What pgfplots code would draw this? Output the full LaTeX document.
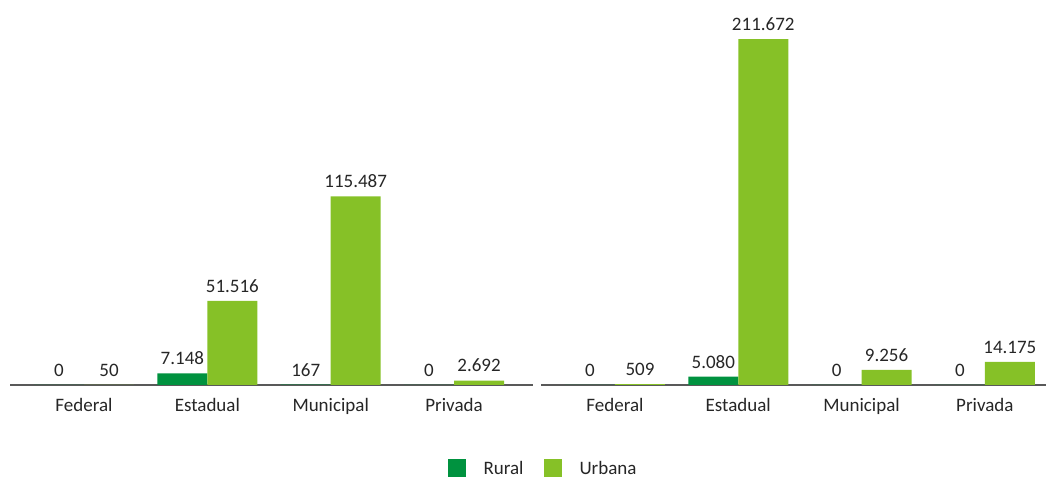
\documentclass[border=0pt]{standalone}
\usepackage{fontspec}
\setmainfont{Carlito}
\usepackage{pgfplots}
\pgfplotsset{compat=1.18}
\definecolor{rural}{HTML}{00923F}
\definecolor{urbana}{HTML}{86C127}
\definecolor{txt}{HTML}{262626}
\newcommand{\lbl}{\fontsize{19}{22}\selectfont}

\pgfplotsset{painel/.style={
  scale only axis, height=385pt, ymin=0, ymax=235620,
  axis x line*=bottom, axis y line=none,
  x axis line style={color=black!65, line width=1.1pt},
  xtick={0,1,2,3}, xticklabels={Federal,Estadual,Municipal,Privada},
  major tick length=0pt,
  xticklabel style={font=\lbl, text=txt, yshift=-10pt},
  ybar, bar width=50pt,
  nodes near coords,
  every node near coord/.append style={font=\lbl, text=txt, yshift=5pt},
  /pgf/number format/1000 sep={.},
  /pgf/number format/fixed,
  /pgf/number format/precision=0,
  /pgf/number format/assume math mode=true,
  legend image code/.code={\fill[##1] (0pt,-9pt) rectangle (18pt,9pt); \path (34pt,0pt);},
}}

\begin{document}
\begin{tikzpicture}
\useasboundingbox (0,0) rectangle (1046pt,478pt);
% painel esquerdo
\begin{axis}[painel, at={(10pt,93pt)}, anchor=south west,
  width=523pt, xmin=-0.6, xmax=3.64]
\addplot[fill=rural, draw=none, bar shift=-25pt] coordinates {(0,0) (1,7148) (2,167) (3,0)};
\addplot[fill=urbana, draw=none, bar shift=25pt] coordinates {(0,50) (1,51516) (2,115487) (3,2692)};
\end{axis}
% painel direito
\begin{axis}[painel, at={(541pt,93pt)}, anchor=south west,
  width=505pt, xmin=-0.6, xmax=3.496,
  legend columns=2,
  legend style={at={(0.004,-0.216)}, anchor=center, draw=none, fill=none,
    font=\lbl, text=txt,
    /tikz/every even column/.append style={column sep=18pt}},
  legend cell align=left]
\addplot[fill=rural, draw=none, bar shift=-25pt] coordinates {(0,0) (1,5080) (2,0) (3,0)};
\addplot[fill=urbana, draw=none, bar shift=25pt] coordinates {(0,509) (1,211672) (2,9256) (3,14175)};
\legend{Rural, Urbana}
\end{axis}
\end{tikzpicture}
\end{document}
